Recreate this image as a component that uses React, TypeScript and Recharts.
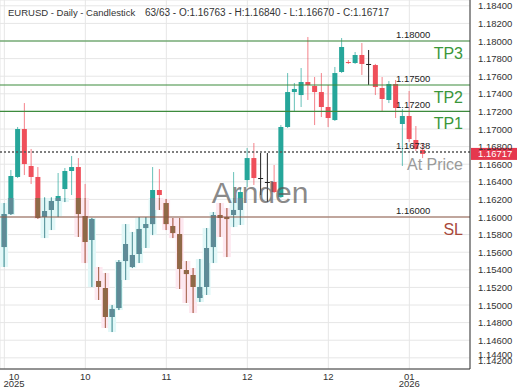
import { ComposedChart, Bar, XAxis, YAxis, CartesianGrid, ReferenceLine } from "recharts";

// EURUSD daily candles, 63 bars
const open = [
  1.15659, 1.16034, 1.16455, 1.17, 1.1658, 1.16455, 1.16, 1.1608, 1.16182, 1.16318,
  1.16523, 1.16568, 1.16011, 1.15739, 1.15273, 1.15193, 1.14864, 1.14966, 1.155, 1.15432,
  1.1558, 1.15875, 1.1592, 1.16307, 1.16159, 1.15898, 1.15807, 1.15398, 1.15341, 1.1508,
  1.15205, 1.15659, 1.16023, 1.16, 1.16023, 1.1608, 1.1642, 1.1667, 1.16443, 1.16398,
  1.16398, 1.16227, 1.17023, 1.1742, 1.17386, 1.17534, 1.17489, 1.1742, 1.1725, 1.17102,
  1.17648, 1.17761, 1.1775, 1.17841, 1.17739, 1.17727, 1.17466, 1.1733, 1.17511, 1.17057,
  1.17148, 1.16875, 1.16763,
];
const high = [
  1.16159, 1.16534, 1.17023, 1.17295, 1.16773, 1.16568, 1.16227, 1.16227, 1.165, 1.16557,
  1.16693, 1.1667, 1.16375, 1.15989, 1.15432, 1.15364, 1.15, 1.15511, 1.1592, 1.1583,
  1.16, 1.16, 1.16568, 1.16545, 1.16205, 1.15989, 1.15989, 1.155, 1.1542, 1.15523,
  1.15875, 1.16057, 1.16159, 1.16102, 1.16511, 1.1633, 1.16784, 1.16841, 1.16727, 1.16727,
  1.16591, 1.17045, 1.17636, 1.17523, 1.17693, 1.18045, 1.17591, 1.17636, 1.175, 1.17705,
  1.18034, 1.17784, 1.17875, 1.17977, 1.17898, 1.1774, 1.17591, 1.17545, 1.17557, 1.17227,
  1.17432, 1.17034, 1.1684,
];
const low = [
  1.15432, 1.16023, 1.16443, 1.16477, 1.16375, 1.1598, 1.15761, 1.15852, 1.16, 1.1617,
  1.1625, 1.15773, 1.15477, 1.15205, 1.15057, 1.14739, 1.14693, 1.14943, 1.15284, 1.1542,
  1.15477, 1.15648, 1.15795, 1.1608, 1.15852, 1.15761, 1.15182, 1.15023, 1.14909, 1.15034,
  1.15114, 1.15477, 1.15773, 1.15545, 1.15886, 1.15909, 1.16341, 1.16364, 1.1625, 1.1617,
  1.16273, 1.16216, 1.17011, 1.17193, 1.1725, 1.1733, 1.17045, 1.17136, 1.17023, 1.17091,
  1.17636, 1.17739, 1.17739, 1.17614, 1.175, 1.17386, 1.17205, 1.17295, 1.17125, 1.1658,
  1.16852, 1.1675, 1.1667,
];
const close = [
  1.16034, 1.16466, 1.17, 1.16602, 1.16455, 1.15989, 1.16068, 1.16182, 1.16239, 1.16523,
  1.16568, 1.16034, 1.15716, 1.15977, 1.15205, 1.14864, 1.14955, 1.15489, 1.15693, 1.15568,
  1.15864, 1.1592, 1.16307, 1.1625, 1.1592, 1.15818, 1.15409, 1.15352, 1.15205, 1.15205,
  1.15648, 1.16023, 1.15989, 1.15977, 1.1608, 1.16284, 1.1667, 1.16443, 1.16443, 1.16398,
  1.16284, 1.17023, 1.1742, 1.17455, 1.17534, 1.175, 1.1742, 1.1725, 1.17125, 1.17636,
  1.17932, 1.1775, 1.17841, 1.17739, 1.17739, 1.17477, 1.17341, 1.17511, 1.17239, 1.17148,
  1.16886, 1.16773, 1.16717,
];

const yTicks = [
  1.144, 1.146, 1.148, 1.15, 1.152, 1.154, 1.156, 1.158, 1.16, 1.162, 1.164,
  1.166, 1.168, 1.17, 1.172, 1.174, 1.176, 1.178, 1.18, 1.182, 1.184,
];
const clippedTick = 1.142;

const xTickBars = [0, 12, 24, 36, 48, 60];
const xTickMonths = ["10", "10", "11", "12", "12", "01"];
const xTickYears = ["2025", "", "", "", "", "2026"];

const levelNames = ["TP3", "TP2", "TP1", "At Price", "SL"];
const levelValues = [1.18, 1.175, 1.172, 1.16738, 1.16];
const lastClose = 1.16717;
const shadeLevel = 1.16216;

const candles = open.map((o, i) => ({ i, open: o, high: high[i], low: low[i], close: close[i] }));

const FONT = "'Liberation Sans', Arial, sans-serif";

const levelStyle: Record<string, { stroke: string; text: string; dash?: string; width?: number }> = {
  TP3: { stroke: "#3d8b3d", text: "#3a963a" },
  TP2: { stroke: "#3d8b3d", text: "#3a963a" },
  TP1: { stroke: "#3d8b3d", text: "#3a963a" },
  "At Price": { stroke: "#555", text: "#9a9a9a", dash: "2 2", width: 1.5 },
  SL: { stroke: "#8e5a48", text: "#a8493a" },
};

const Candle = (props: any) => {
  const { x, y, width, height, payload } = props;
  const { open: o, close: c, high: h, low: l } = payload;
  const cx = x + width / 2;
  const py = (p: number) => (h === l ? y : y + ((h - p) / (h - l)) * height);
  const flat = o === c;
  const up = c > o;
  const base = flat ? "#222" : up ? "#26a69a" : "#ef4f5a";
  const muted = flat ? "#222" : up ? "#5f8b97" : "#8f6947";
  const tint = up ? "#e2f8f8" : "#fde8f0";
  const thrY = py(shadeLevel);
  const top = py(Math.max(o, c));
  const bot = Math.max(py(Math.min(o, c)), top + 1);
  const low = y + height;
  const bw = 5;
  return (
    <g>
      {low > thrY && !flat && (
        <rect x={cx - 4} y={Math.max(thrY, y)} width={8} height={low - Math.max(thrY, y)} fill={tint} />
      )}
      <line x1={cx} x2={cx} y1={y} y2={low} stroke={base} strokeOpacity={flat ? 1 : 0.7} />
      {low > thrY && !flat && (
        <line x1={cx} x2={cx} y1={Math.max(thrY, y)} y2={low} stroke={muted} strokeOpacity={0.8} />
      )}
      <rect x={cx - bw / 2} y={top} width={bw} height={bot - top} fill={base} />
      {bot > thrY && !flat && (
        <rect x={cx - bw / 2} y={Math.max(thrY, top)} width={bw} height={bot - Math.max(thrY, top)} fill={muted} />
      )}
    </g>
  );
};

const PriceTick = (props: any) => {
  const { x, y, payload } = props;
  const v = payload.value;
  const squeezed = v === 1.144;
  return (
    <g>
      <text x={x} y={y + 3.5 - (squeezed ? 3 : 0)} fontSize={9.5} fill="#333" fontFamily={FONT}>
        {v.toFixed(5)}
      </text>
      {squeezed && (
        <text x={x} y={y + 6.5} fontSize={9.5} fill="#333" fontFamily={FONT}>
          {clippedTick.toFixed(5)}
        </text>
      )}
    </g>
  );
};

const DateTick = (props: any) => {
  const { x, y, payload } = props;
  const k = xTickBars.indexOf(payload.value);
  const cx = Math.max(x, 14);
  return (
    <g fontFamily={FONT} fontSize={9.5} fill="#333" textAnchor="middle">
      <text x={cx} y={y + 2.5}>{xTickMonths[k]}</text>
      {xTickYears[k] && <text x={cx} y={y + 10}>{xTickYears[k]}</text>}
    </g>
  );
};

const levelLabel = (name: string, value: number) => (p: any) => {
  const vb = p.viewBox;
  const right = vb.x + vb.width;
  return (
    <g fontFamily={FONT}>
      <text x={right - 74} y={vb.y - 3.5} fontSize={9.5} fill="#222">
        {value.toFixed(5)}
      </text>
      <text x={right - 7} y={vb.y + 18} fontSize={16} textAnchor="end" fill={levelStyle[name].text}>
        {name}
      </text>
    </g>
  );
};

const priceMarker = (p: any) => {
  const vb = p.viewBox;
  const right = vb.x + vb.width;
  return (
    <g fontFamily={FONT}>
      <rect x={right + 1} y={vb.y - 6} width={46} height={12} fill="#e5384e" />
      <text x={right + 8} y={vb.y + 3.5} fontSize={9.5} fill="#fff">
        {lastClose.toFixed(5)}
      </text>
    </g>
  );
};

export default function App() {
  return (
    <div style={{ position: "absolute", left: 0, top: 0, width: 520, height: 390, background: "#fff" }}>
      <ComposedChart
        width={520}
        height={390}
        data={candles}
        margin={{ top: 0, right: 0, bottom: 0, left: 0 }}
        style={{ fontFamily: FONT }}
      >
        <CartesianGrid stroke="#e6e6e6" />
        <XAxis
          dataKey="i"
          type="number"
          domain={[-0.64, 68.99]}
          ticks={xTickBars}
          interval={0}
          height={21}
          tick={<DateTick />}
          tickLine={false}
          axisLine={{ stroke: "#333" }}
          allowDataOverflow
        />
        <YAxis
          orientation="right"
          type="number"
          domain={[1.14273, 1.18466]}
          ticks={yTicks}
          interval={0}
          width={50}
          tick={<PriceTick />}
          tickLine={false}
          tickSize={0}
          tickMargin={8}
          axisLine={{ stroke: "#333" }}
          allowDataOverflow
        />
        <Bar
          dataKey={(d: any) => [d.low, d.high]}
          shape={<Candle />}
          isAnimationActive={false}
        />
        {levelNames.map((name, k) => (
          <ReferenceLine
            key={name}
            y={levelValues[k]}
            stroke={levelStyle[name].stroke}
            strokeWidth={levelStyle[name].width ?? 1.2}
            strokeDasharray={levelStyle[name].dash}
            label={levelLabel(name, levelValues[k])}
          />
        ))}
        <ReferenceLine y={lastClose} stroke="none" label={priceMarker} />
      </ComposedChart>
      <svg
        width={520}
        height={390}
        style={{ position: "absolute", left: 0, top: 0, pointerEvents: "none" }}
        fontFamily={FONT}
      >
        <text x={8} y={16} fontSize={9.5} fill="#333">
          EURUSD - Daily - Candlestick
        </text>
        <text x={145} y={16} fontSize={10} fill="#333">
          63/63 - O:1.16763 - H:1.16840 - L:1.16670 - C:1.16717
        </text>
        <text x={260} y={203} fontSize={30} textAnchor="middle" fill="#555" fillOpacity={0.7}>
          Arnden
        </text>
      </svg>
    </div>
  );
}
